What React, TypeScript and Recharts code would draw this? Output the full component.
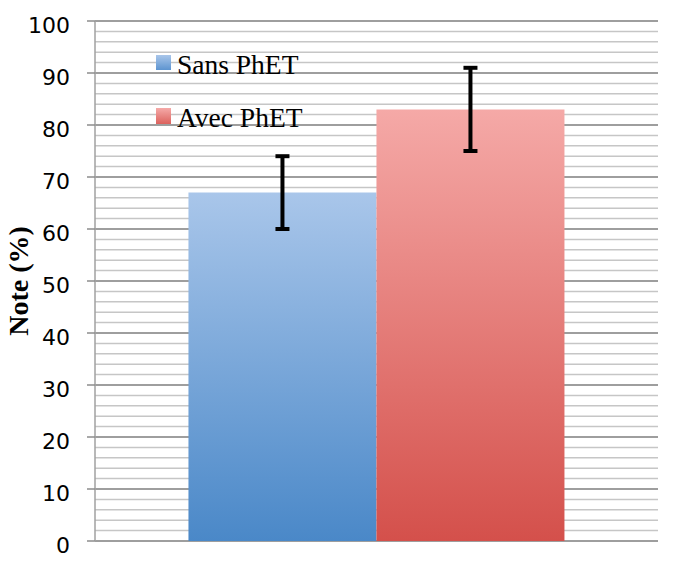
import React from "react";
import { Bar, BarChart, CartesianGrid, ErrorBar, Legend, XAxis, YAxis } from "recharts";

const categories = ["Note"];
const sansValues = [67];
const sansErrors = [7];
const avecValues = [83];
const avecErrors = [8];
const seriesNames = ["Sans PhET", "Avec PhET"];
const majorTicks = [0, 10, 20, 30, 40, 50, 60, 70, 80, 90, 100];
const minorTicks = [
  0, 2, 4, 6, 8, 10, 12, 14, 16, 18, 20, 22, 24, 26, 28, 30, 32, 34, 36, 38, 40, 42, 44, 46, 48, 50,
  52, 54, 56, 58, 60, 62, 64, 66, 68, 70, 72, 74, 76, 78, 80, 82, 84, 86, 88, 90, 92, 94, 96, 98, 100,
];

const data = categories.map((name, i) => ({
  name,
  sans: sansValues[i],
  sansErr: sansErrors[i],
  avec: avecValues[i],
  avecErr: avecErrors[i],
}));

const SERIF = "'Liberation Serif', 'DejaVu Serif', serif";

function YTick(props: any) {
  const { x, y, payload } = props;
  return (
    <text x={x} y={y + 11.5} textAnchor="end" fontSize={22} fontFamily="'DejaVu Sans', sans-serif" fill="#000">
      {payload.value}
    </text>
  );
}

function YLabel(props: any) {
  const { viewBox } = props;
  const cx = viewBox.x + 20;
  const cy = viewBox.y + viewBox.height / 2;
  return (
    <text
      transform={`translate(${cx},${cy}) rotate(-90)`}
      textAnchor="middle"
      fontSize={28}
      fontWeight="bold"
      fontFamily={SERIF}
      fill="#000"
    >
      Note (%)
    </text>
  );
}

function LegendBox() {
  return (
    <svg width={200} height={90} style={{ display: "block", overflow: "visible" }}>
      <defs>
        <linearGradient id="legBlue" x1="0" y1="0" x2="0" y2="1">
          <stop offset="0%" stopColor="#a9c6ea" />
          <stop offset="100%" stopColor="#5d94d0" />
        </linearGradient>
        <linearGradient id="legRed" x1="0" y1="0" x2="0" y2="1">
          <stop offset="0%" stopColor="#f5aaa8" />
          <stop offset="100%" stopColor="#dc625d" />
        </linearGradient>
      </defs>
      <rect x={0} y={0} width={15} height={15} fill="url(#legBlue)" />
      <text x={21} y={19} fontSize={27.5} fontFamily={SERIF} fill="#000">
        {seriesNames[0]}
      </text>
      <rect x={0} y={53} width={15} height={16} fill="url(#legRed)" />
      <text x={21} y={72} fontSize={27.5} fontFamily={SERIF} fill="#000">
        {seriesNames[1]}
      </text>
    </svg>
  );
}

export default function App() {
  return (
    <div style={{ width: 691, height: 569, marginLeft: -8, background: "#fff" }}>
      <BarChart
        width={691}
        height={569}
        data={data}
        margin={{ top: 13, right: 33, bottom: 36, left: 8 }}
        barCategoryGap="16.6%"
        barGap={0}
      >
        <defs>
          <linearGradient id="gradBlue" x1="0" y1="0" x2="0" y2="1">
            <stop offset="0%" stopColor="#a9c6ea" />
            <stop offset="100%" stopColor="#4a88c8" />
          </linearGradient>
          <linearGradient id="gradRed" x1="0" y1="0" x2="0" y2="1">
            <stop offset="0%" stopColor="#f5a9a7" />
            <stop offset="100%" stopColor="#d4504b" />
          </linearGradient>
        </defs>
        <CartesianGrid
          vertical={false}
          horizontalValues={minorTicks}
          stroke="#c6c6c6"
          strokeWidth={1.5}
        />
        <CartesianGrid
          vertical={false}
          horizontalValues={majorTicks}
          stroke="#8c8c8c"
          strokeWidth={1.5}
        />
        <XAxis dataKey="name" hide />
        <YAxis
          width={87}
          domain={[0, 100]}
          ticks={majorTicks}
          interval={0}
          tick={<YTick />}
          tickSize={8}
          tickMargin={17}
          tickLine={{ stroke: "#8c8c8c", strokeWidth: 1.5 }}
          axisLine={{ stroke: "#a0a0a0", strokeWidth: 1.5 }}
          label={<YLabel />}
        />
        <Legend
          layout="vertical"
          align="center"
          verticalAlign="middle"
          wrapperStyle={{ left: 156, top: 47, width: 200 }}
          content={() => <LegendBox />}
        />
        <Bar dataKey="sans" name={seriesNames[0]} fill="url(#gradBlue)" isAnimationActive={false}>
          <ErrorBar dataKey="sansErr" width={7} strokeWidth={4} stroke="#000" direction="y" isAnimationActive={false} />
        </Bar>
        <Bar dataKey="avec" name={seriesNames[1]} fill="url(#gradRed)" isAnimationActive={false}>
          <ErrorBar dataKey="avecErr" width={7} strokeWidth={4} stroke="#000" direction="y" isAnimationActive={false} />
        </Bar>
      </BarChart>
    </div>
  );
}
